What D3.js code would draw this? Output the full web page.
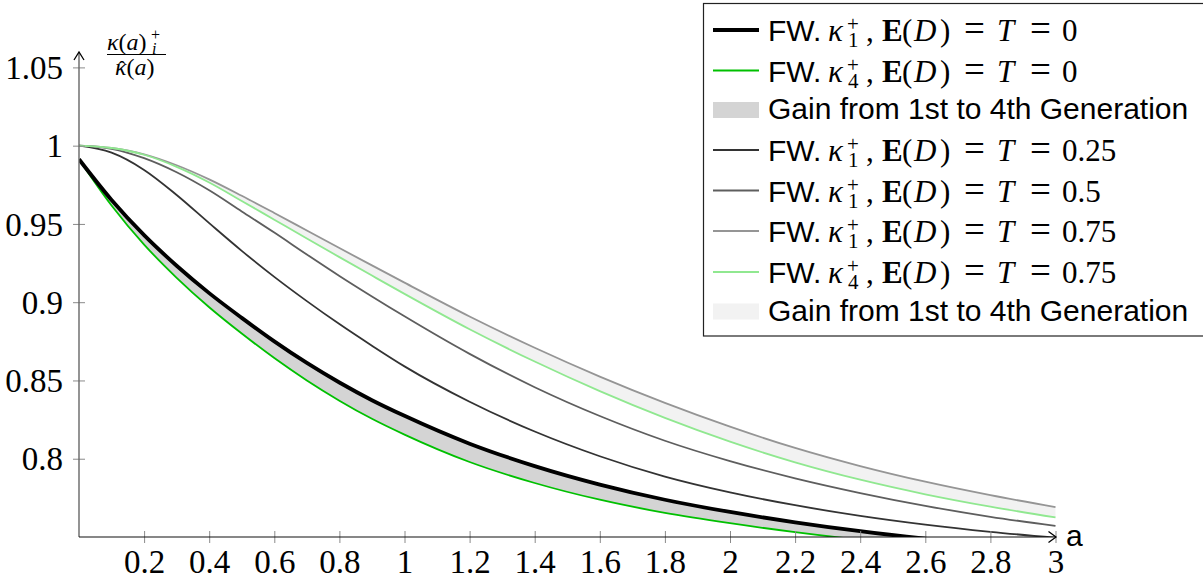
<!DOCTYPE html>
<html><head><meta charset="utf-8">
<script src="https://cdn.jsdelivr.net/npm/d3@7"></script>
<style>
html,body{margin:0;padding:0;background:#fff;}
svg{display:block;}
text{white-space:pre;}
</style></head>
<body>
<svg id="chart" width="1203" height="580"></svg>
<script>
// ---- data ----
const aValues = [0,0.1,0.2,0.3,0.4,0.5,0.6,0.7,0.8,0.9,1.0,1.2,1.4,1.6,1.8,2.0,2.2,2.4,2.6,2.8,3.0];
const k1T0   = [0.9913,0.9653,0.9428,0.9233,0.9058,0.890,0.875,0.8612,0.8487,0.8374,0.8274,0.8096,0.7953,0.7835,0.7738,0.766,0.7594,0.7537,0.7489,0.7447,0.741];
const k4T0   = [0.9913,0.9618,0.9368,0.9156,0.8968,0.880,0.8643,0.850,0.8371,0.8255,0.8154,0.7979,0.7845,0.7738,0.7654,0.7588,0.7531,0.7482,0.744,0.7402,0.7368];
const k1T025 = [1.0,0.9955,0.9845,0.9685,0.9505,0.9328,0.9162,0.9007,0.886,0.8722,0.859,0.8364,0.8174,0.8016,0.7886,0.7785,0.7703,0.7635,0.7579,0.7533,0.7495];
const k1T05  = [1.0,0.998,0.992,0.983,0.9715,0.958,0.9445,0.9305,0.9168,0.9037,0.891,0.867,0.8457,0.8273,0.8115,0.7985,0.7875,0.7781,0.7699,0.7629,0.7571];
const k1T075 = [1.0,0.9985,0.9945,0.9875,0.9785,0.968,0.957,0.9458,0.9346,0.9235,0.9125,0.8909,0.8709,0.8525,0.8357,0.8205,0.8069,0.7953,0.7853,0.7767,0.7691];
const k4T075 = [1.0,0.9985,0.9942,0.9865,0.9765,0.9647,0.9527,0.9407,0.9288,0.917,0.9053,0.8827,0.8621,0.8432,0.8261,0.8109,0.7977,0.7866,0.7773,0.7694,0.7625];

const xTicks = [0.2,0.4,0.6,0.8,1,1.2,1.4,1.6,1.8,2,2.2,2.4,2.6,2.8,3];
const xTickLabels = ["0.2","0.4","0.6","0.8","1","1.2","1.4","1.6","1.8","2","2.2","2.4","2.6","2.8","3"];
const yTicks = [0.8,0.85,0.9,0.95,1,1.05];
const yTickLabels = ["0.8","0.85","0.9","0.95","1","1.05"];

const legendLabels = [
  {kind:"line", sub:"1", t:"0"},
  {kind:"line", sub:"4", t:"0"},
  {kind:"area", text:"Gain from 1st to 4th Generation"},
  {kind:"line", sub:"1", t:"0.25"},
  {kind:"line", sub:"1", t:"0.5"},
  {kind:"line", sub:"1", t:"0.75"},
  {kind:"line", sub:"4", t:"0.75"},
  {kind:"area", text:"Gain from 1st to 4th Generation"}
];

// ---- styles ----
const styles = {
  k1T0:   {color:"#000000", width:3.8},
  k4T0:   {color:"#00c000", width:1.8},
  gain0:  {color:"#d4d4d4"},
  k1T025: {color:"#333333", width:1.8},
  k1T05:  {color:"#5e5e5e", width:1.8},
  k1T075: {color:"#959595", width:1.8},
  k4T075: {color:"#90e890", width:1.8},
  gain75: {color:"#f2f2f2"}
};
const legendStyles = [styles.k1T0, styles.k4T0, styles.gain0, styles.k1T025, styles.k1T05, styles.k1T075, styles.k4T075, styles.gain75];

const SERIF = "'Liberation Serif','Times New Roman',serif";
const SANS = "'Liberation Sans',Arial,Helvetica,sans-serif";

const svg = d3.select("#chart");
const x = d3.scaleLinear().domain([0,3]).range([79,1055.5]);
const y = d3.scaleLinear().domain([0.75,1.05]).range([537,67.4]);

svg.append("defs").append("clipPath").attr("id","clip")
  .append("rect").attr("x",x(0)).attr("y",0).attr("width",x(3)-x(0)+1).attr("height",y(0.75));

const plot = svg.append("g").attr("clip-path","url(#clip)");

function pts(arr){ return aValues.map((a,i)=>[a,arr[i]]); }
const line = d3.line().x(d=>x(d[0])).y(d=>y(d[1])).curve(d3.curveMonotoneX);
const area = d3.area().x((d,i)=>x(aValues[i])).y0(d=>y(d[0])).y1(d=>y(d[1])).curve(d3.curveMonotoneX);

plot.append("path").attr("d", area(aValues.map((a,i)=>[k4T0[i],k1T0[i]]))).attr("fill",styles.gain0.color);
plot.append("path").attr("d", area(aValues.map((a,i)=>[k4T075[i],k1T075[i]]))).attr("fill",styles.gain75.color);

const series = [
  [k1T025, styles.k1T025],
  [k1T05, styles.k1T05],
  [k1T075, styles.k1T075],
  [k4T075, styles.k4T075],
  [k4T0, styles.k4T0],
  [k1T0, styles.k1T0]
];
series.forEach(([arr,st])=>{
  plot.append("path").attr("d", line(pts(arr))).attr("fill","none")
    .attr("stroke",st.color).attr("stroke-width",st.width).attr("stroke-linejoin","round");
});

// ---- axes ----
const xAxis = d3.axisBottom(x).tickValues(xTicks).tickFormat((d,i)=>xTickLabels[i]).tickSizeInner(6).tickSizeOuter(0);
const gx = svg.append("g").attr("transform",`translate(0,${y(0.75)})`).call(xAxis);
gx.select(".domain").remove();
gx.selectAll(".tick line").attr("y1",-6).attr("y2",6).attr("stroke","#8a8a8a");
gx.selectAll(".tick text").attr("font-family",SERIF).attr("font-size",33).attr("fill","#000").attr("y",36).attr("dy",0);

const yAxis = d3.axisLeft(y).tickValues(yTicks).tickFormat((d,i)=>yTickLabels[i]).tickSizeInner(6).tickSizeOuter(0);
const gy = svg.append("g").attr("transform",`translate(${x(0)},0)`).call(yAxis);
gy.select(".domain").remove();
gy.selectAll(".tick line").attr("x1",6).attr("x2",-6).attr("stroke","#8a8a8a");
gy.selectAll(".tick text").attr("font-family",SERIF).attr("font-size",33).attr("fill","#000").attr("x",-16).attr("dy","0.34em");

// axis lines with arrows
svg.append("line").attr("x1",x(0)).attr("x2",x(0)).attr("y1",y(0.75)).attr("y2",52.5).attr("stroke","#666").attr("stroke-width",1.4);
svg.append("path").attr("d",`M${x(0)-5},${60} L${x(0)},${52} L${x(0)+5},${60}`).attr("fill","none").attr("stroke","#000").attr("stroke-width",1.3);
svg.append("line").attr("x1",x(0)).attr("x2",x(3)+0.5).attr("y1",y(0.75)).attr("y2",y(0.75)).attr("stroke","#111").attr("stroke-width",1.2);
svg.append("path").attr("d",`M${x(3)-7},${y(0.75)-5.5} L${x(3)+0.5},${y(0.75)} L${x(3)-7},${y(0.75)+5.5}`).attr("fill","none").attr("stroke","#000").attr("stroke-width",1.3);

// axis labels
svg.append("text").attr("x",1066).attr("y",546).attr("font-family",SANS).attr("font-size",30).text("a");

const yl = svg.append("g").attr("font-family",SERIF);
const num = yl.append("text").attr("x",107).attr("y",50).attr("font-size",24);
num.append("tspan").attr("font-style","italic").text("κ");
num.append("tspan").text("(");
num.append("tspan").attr("font-style","italic").text("a");
num.append("tspan").text(")");
yl.append("text").attr("x",151).attr("y",40).attr("font-size",16).text("+");
yl.append("text").attr("x",152).attr("y",54).attr("font-size",16).attr("font-style","italic").text("i");
yl.append("line").attr("x1",107).attr("x2",166).attr("y1",54.5).attr("y2",54.5).attr("stroke","#000").attr("stroke-width",1);
const den = yl.append("text").attr("x",115).attr("y",75).attr("font-size",24);
den.append("tspan").attr("font-style","italic").text("κ");
den.append("tspan").text("(");
den.append("tspan").attr("font-style","italic").text("a");
den.append("tspan").text(")");
yl.append("text").attr("x",122).attr("y",76).attr("font-size",22).attr("text-anchor","middle").text("ˆ");

// ---- legend ----
const lg = svg.append("g");
lg.append("rect").attr("x",703.5).attr("y",3.5).attr("width",520).attr("height",332.5)
  .attr("fill","#fff").attr("stroke","#222").attr("stroke-width",1.2);
const baselines = [41,81.5,119,161,201.5,242,283,320.5];
legendLabels.forEach((L,i)=>{
  const b = baselines[i];
  const st = legendStyles[i];
  if(L.kind==="line"){
    lg.append("line").attr("x1",713).attr("x2",759).attr("y1",b-11).attr("y2",b-11)
      .attr("stroke",st.color).attr("stroke-width",st.width);
    lg.append("text").attr("x",768).attr("y",b).attr("font-family",SANS).attr("font-size",30).text("FW.");
    const t = lg.append("text").attr("y",b).attr("font-size",31).attr("font-family",SERIF);
    t.append("tspan").attr("x",828).attr("font-style","italic").text("κ");
    t.append("tspan").attr("x",866).text(",");
    t.append("tspan").attr("x",882).attr("font-weight","bold").text("E");
    t.append("tspan").attr("x",902).text("(");
    t.append("tspan").attr("x",914).attr("font-style","italic").text("D");
    t.append("tspan").attr("x",940).text(")");
    t.append("tspan").attr("x",964).attr("font-size",37).text("=");
    t.append("tspan").attr("x",997).attr("font-style","italic").text("T");
    t.append("tspan").attr("x",1030).attr("font-size",37).text("=");
    t.append("tspan").attr("x",1062).text(L.t);
    lg.append("text").attr("x",847).attr("y",b-10).attr("font-size",21).attr("font-family",SERIF).text("+");
    lg.append("text").attr("x",848).attr("y",b+6).attr("font-size",21).attr("font-family",SERIF).text(L.sub);
  } else {
    lg.append("rect").attr("x",713).attr("y",b-17).attr("width",46).attr("height",16).attr("fill",st.color);
    lg.append("text").attr("x",768).attr("y",b).attr("font-family",SANS).attr("font-size",30).text(L.text);
  }
});
</script>
</body></html>
